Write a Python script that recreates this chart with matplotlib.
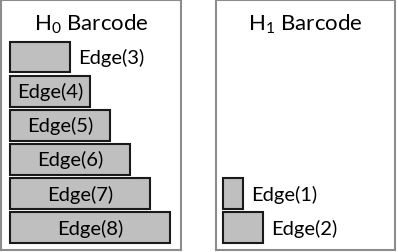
import matplotlib
matplotlib.use('Agg')
import matplotlib.pyplot as plt

plt.rcParams['font.family'] = ['Lato', 'DejaVu Sans']
plt.rcParams['mathtext.fontset'] = 'custom'
plt.rcParams['mathtext.rm'] = 'Lato'

# barcode data: bar length per edge, row index from top
h0_labels = ['Edge(3)', 'Edge(4)', 'Edge(5)', 'Edge(6)', 'Edge(7)', 'Edge(8)']
h0_lengths = [3, 4, 5, 6, 7, 8]
h0_rows = [0, 1, 2, 3, 4, 5]

h1_labels = ['Edge(1)', 'Edge(2)']
h1_lengths = [1, 2]
h1_rows = [4, 5]

W, H = 398, 253
fig = plt.figure(figsize=(W / 100, H / 100), dpi=100)


def panel(rect_px, x0_px, title, labels, lengths, rows):
    left, top, right, bottom = rect_px
    ax = fig.add_axes([left / W, (H - bottom) / H, (right - left) / W, (bottom - top) / H])
    # 20 px per unit along x, 34.15 px per row along y
    ax.set_xlim(-x0_px / 20, (right - left - x0_px) / 20)
    ax.set_ylim((bottom - 58) / 34.15, (top - 58) / 34.15)
    ax.barh(rows, lengths, height=0.9, left=0, color='#bfbfbf',
            edgecolor='#1a1a1a', linewidth=1.5)
    for lab, val, r in zip(labels, lengths, rows):
        if val > 3:
            ax.text(val / 2, r, lab, ha='center', va='center', fontsize=14.5, color='black')
        else:
            # bar too short, label goes to the right
            ax.text(val + 0.42, r, lab, ha='left', va='center', fontsize=14.5, color='black')
    ax.text(0.5, 0.884, title, transform=ax.transAxes, ha='center', va='baseline',
            fontsize=16)
    ax.set_xticks([])
    ax.set_yticks([])
    for s in ax.spines.values():
        s.set_color('#8c8c8c')
        s.set_linewidth(1.5)
    return ax


panel((1, 1, 181, 251), 9, r'H$_\mathrm{0}$ Barcode', h0_labels, h0_lengths, h0_rows)
panel((216, 1, 395, 251), 6.5, r'H$_\mathrm{1}$ Barcode', h1_labels, h1_lengths, h1_rows)

fig.savefig('out.png', dpi=100)
